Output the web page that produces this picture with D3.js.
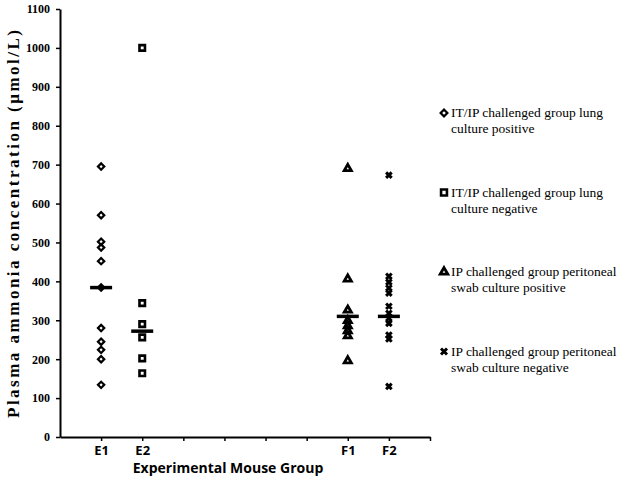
<!DOCTYPE html>
<html><head><meta charset="utf-8">
<script src="https://cdn.jsdelivr.net/npm/d3@7"></script>
<style>body{margin:0;background:#fff}</style>
</head><body><svg id="c" width="629" height="484"></svg>
<script>
const categories = ["E1","E2","","","","","F1","F2"];
const yTicks = [0,100,200,300,400,500,600,700,800,900,1000,1100];
const e1 = [695,570,502,487,452,384,280,245,224,200,134];
const e2 = [1000,344,290,256,202,164];
const f1 = [690,406,326,299,286,273,260,196];
const f2 = [673,413,398,383,370,336,318,305,292,262,252,130];
const medians = [384,272,310,310];
const medianPos = [1,2,7,8];
const seriesNames = ["IT/IP challenged group lung|culture positive","IT/IP challenged group lung|culture negative","IP challenged group peritoneal|swab culture positive","IP challenged group peritoneal|swab culture negative"];

const SERIF = "'Liberation Serif', 'Times New Roman', serif";
const SANS = "'Open Sans', 'Liberation Sans', sans-serif";
const svg = d3.select("#c");
const x = d3.scaleLinear().domain([0,9]).range([60,430]);
const y = d3.scaleLinear().domain([0,1100]).range([437,9]);

// axes
const gy = svg.append("g").attr("transform","translate(60,0)")
  .call(d3.axisLeft(y).tickValues(yTicks).tickFormat(d3.format("d")).tickSize(4).tickSizeOuter(0).tickPadding(6));
gy.attr("font-family",null);
gy.select(".domain").attr("stroke-width",2);
gy.selectAll("line").attr("stroke-width",1.5);
gy.selectAll("text").style("font-family",SERIF).style("font-weight","bold").style("font-size","12px").attr("fill","#000");

const gx = svg.append("g").attr("transform","translate(0,437)")
  .call(d3.axisBottom(x).tickValues(d3.range(1,10)).tickFormat(i=>categories[i-1]||"").tickSize(4).tickSizeOuter(0).tickPadding(5));
gx.attr("font-family",null);
gx.select(".domain").attr("stroke-width",2);
gx.selectAll("line").attr("stroke-width",1.5);
gx.selectAll("text").style("font-family",SANS).style("font-weight","bold").style("font-size","13px").attr("fill","#000");

// titles
svg.append("text").attr("transform","translate(19,224) rotate(-90)").attr("text-anchor","middle")
  .style("font-family",SERIF).style("font-weight","bold").style("font-size","17px")
  .attr("textLength",388).attr("lengthAdjust","spacing")
  .text("Plasma ammonia concentration (\u03bcmol/L)");
svg.append("text").attr("x",228).attr("y",473).attr("text-anchor","middle")
  .style("font-family",SANS).style("font-weight","bold").style("font-size","14px")
  .text("Experimental Mouse Group");

const syms = [
  {t:d3.symbolSquare, s:20, sw:2.2, rot:45},
  {t:d3.symbolSquare, s:30, sw:2.6, rot:0},
  {t:d3.symbolTriangle, s:22, sw:2.8, rot:0},
  {t:d3.symbolX, s:22, sw:3, rot:0}
];
const groups = [e1,e2,f1,f2];
groups.forEach((vals,gi)=>{
  const sy = syms[gi];
  svg.append("g").selectAll("path").data(vals).join("path")
    .attr("transform",d=>`translate(${x(medianPos[gi])},${y(d)}) rotate(${sy.rot})`)
    .attr("d",d3.symbol(sy.t,sy.s))
    .attr("fill","none").attr("stroke","#000").attr("stroke-width",sy.sw)
    .attr("stroke-linejoin","miter");
});
// median bars
svg.append("g").selectAll("line").data(medians).join("line")
  .attr("x1",(d,i)=>x(medianPos[i])-11).attr("x2",(d,i)=>x(medianPos[i])+11)
  .attr("y1",d=>y(d)).attr("y2",d=>y(d))
  .attr("stroke","#000").attr("stroke-width",3.5);

// legend
const lg = svg.append("g");
seriesNames.forEach((n,i)=>{
  const by = 117 + i*79.5;
  const sy = syms[i];
  lg.append("path").attr("transform",`translate(444,${by-4}) rotate(${sy.rot})`)
    .attr("d",d3.symbol(sy.t,sy.s*1.15)).attr("fill","none").attr("stroke","#000").attr("stroke-width",sy.sw);
  const parts = n.split("|");
  parts.forEach((p,j)=>{
    lg.append("text").attr("x",451).attr("y",by+j*16)
      .style("font-family",SERIF).style("font-size","13.5px").text(p);
  });
});
</script></body></html>
